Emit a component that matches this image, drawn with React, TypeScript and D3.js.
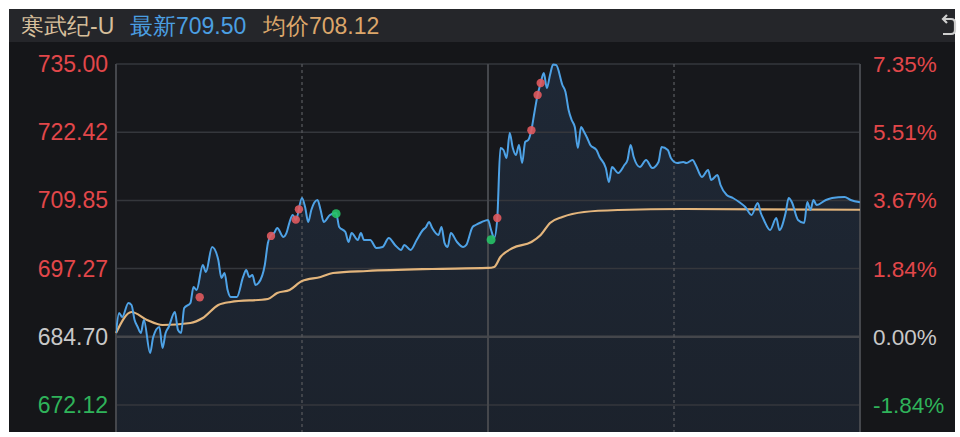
import React from "react";
import * as d3 from "d3";

// ---- data ----
const stockName = "寒武纪-U";
const latestLabel = "最新709.50";
const avgLabel = "均价708.12";
const basePrice = 684.7;
const leftTicks = [735.0, 722.42, 709.85, 697.27, 684.7, 672.12];

const priceMinutes = [
  0, 1, 2, 4, 5, 6, 7, 8, 9, 11, 12, 14, 15, 16, 17, 19, 20, 21, 22, 24, 25, 26, 28, 29, 31, 33, 34, 35, 36, 37, 39,
  41, 42, 43, 44, 45, 46, 48, 49, 50, 51, 52, 54, 55, 56, 57, 58, 60, 61, 62, 63, 65, 66, 67, 69, 71, 72, 74, 75, 76,
  78, 79, 80, 82, 84, 86, 88, 90, 92, 93, 95, 97, 99, 100, 101, 102, 104, 105, 106, 107, 108, 110, 112, 113, 115, 116,
  118, 120, 121, 122, 123, 124, 125, 126, 127, 128, 129, 130, 131, 132, 133, 134, 135, 136, 137, 138, 139, 140, 141,
  142, 144, 145, 146, 147, 148, 149, 150, 151, 152, 153, 155, 156, 158, 159, 160, 162, 164, 165, 166, 167, 169, 171,
  173, 175, 176, 178, 179, 181, 183, 184, 186, 187, 189, 191, 192, 194, 195, 197, 199, 201, 203, 205, 207, 208, 209,
  211, 213, 214, 216, 217, 218, 220, 222, 223, 224, 225, 226, 229, 231, 235, 237, 240,
];
const priceValues = [
  685.4, 689.09, 688.35, 690.93, 690.56, 687.8, 686.51, 685.4, 687.8, 681.71, 684.66, 686.51, 682.63, 685.4, 686.51,
  689.27, 685.95, 685.4, 690.01, 690.93, 693.88, 693.33, 697.94, 696.65, 701.26, 698.86, 695.54, 696.46, 693.33,
  692.04, 692.04, 695.73, 697.02, 695.73, 696.09, 694.25, 694.62, 697.94, 701.99, 703.47, 703.84, 704.76, 703.1,
  703.84, 705.87, 707.16, 706.24, 710.29, 708.63, 705.87, 708.08, 709.92, 708.08, 705.87, 707.16, 707.53, 704.94,
  704.02, 702.18, 703.84, 702.55, 703.84, 702.55, 702.55, 701.07, 701.26, 702.92, 701.63, 700.7, 701.63, 700.7,
  702.55, 704.39, 704.94, 705.87, 704.76, 703.47, 704.94, 701.99, 701.26, 703.84, 702.18, 701.26, 701.63, 704.94,
  705.31, 705.87, 706.24, 704.39, 702.92, 706.6, 719.51, 719.14, 717.67, 722.28, 719.51, 718.22, 720.06, 716.75,
  720.62, 720.99, 722.83, 726.15, 729.28, 731.5, 733.34, 730.57, 732.97, 734.9, 734.82, 731.13, 729.84, 726.52,
  724.67, 723.38, 719.51, 723.38, 722.46, 721.36, 720.06, 719.14, 717.85, 715.82, 713.24, 716.01, 714.9, 716.38,
  717.3, 720.06, 717.85, 716.01, 717.3, 715.82, 716.93, 719.7, 719.14, 717.67, 716.75, 716.93, 716.75, 717.3, 716.38,
  714.16, 715.45, 713.61, 714.53, 712.69, 710.85, 710.29, 709.55, 708.63, 707.16, 709.37, 707.53, 706.24, 704.39,
  706.6, 704.39, 707.53, 710.29, 709.55, 706.24, 705.68, 709.55, 708.08, 709.92, 709.0, 709.92, 710.29, 710.48,
  709.92, 709.5,
];

const avgMinutes = [0, 5, 10, 15, 24, 28, 33, 37, 49, 52, 56, 60, 66, 70, 81, 102, 120, 122, 124, 128, 134, 137, 140, 144, 151, 162, 183, 240];
const avgValues = [
  685.4, 689.27, 687.8, 686.87, 687.24, 688.17, 690.56, 691.12, 691.67, 692.78, 693.33, 694.99, 695.73, 696.46,
  696.83, 697.2, 697.39, 697.57, 699.41, 701.07, 702.18, 703.47, 705.68, 706.79, 707.71, 708.08, 708.26, 708.12,
];

const redDotMinutes = [27, 50, 58, 59, 123, 134, 136, 137];
const redDotValues = [692.0, 703.3, 706.3, 708.2, 706.6, 722.8, 729.3, 731.5];
const greenDotMinutes = [71, 121];
const greenDotValues = [707.4, 702.6];

// ---- layout ----
const W = 960;
const H = 437;
const plotL = 116;
const plotR = 860;
const plotT = 64;
const plotB = 432;
const FONT = "'Liberation Sans', Arial, sans-serif";

export default function App() {
  const x = d3.scaleLinear().domain([0, 240]).range([plotL, plotR]);
  const y = d3.scaleLinear().domain([672.12, 735]).range([405, plotT]);

  const pricePts: [number, number][] = priceMinutes.map((m, i) => [m, priceValues[i]]);
  const avgPts: [number, number][] = avgMinutes.map((m, i) => [m, avgValues[i]]);

  const line = d3
    .line<[number, number]>()
    .x((d) => x(d[0]))
    .y((d) => y(d[1]))
    .curve(d3.curveMonotoneX);
  const area = d3
    .area<[number, number]>()
    .x((d) => x(d[0]))
    .y0(plotB)
    .y1((d) => y(d[1]))
    .curve(d3.curveMonotoneX);

  const tickColor = (v: number) =>
    Math.abs(v - basePrice) < 1e-6 ? "#c8c8c8" : v > basePrice ? "#e2474a" : "#2fb35a";

  const pct = (v: number) => ((v - basePrice) / basePrice) * 100;
  const vLines = [0, 60, 120, 180, 240];

  return (
    <div style={{ position: "absolute", left: 0, top: 0, width: W, height: H, background: "#fff" }}>
      <svg width={W} height={H} style={{ display: "block" }}>
        <defs>
          <linearGradient id="fillGrad" x1="0" y1="0" x2="0" y2="1">
            <stop offset="0%" stopColor="rgb(70,125,190)" stopOpacity={0.16} />
            <stop offset="100%" stopColor="rgb(70,125,190)" stopOpacity={0.1} />
          </linearGradient>
          <clipPath id="plotClip">
            <rect x={plotL} y={plotT - 2} width={plotR - plotL} height={plotB - plotT + 2} />
          </clipPath>
        </defs>
        {/* panel */}
        <rect x={9} y={9} width={946} height={423} fill="#151619" />
        {/* header */}
        <rect x={9} y={9} width={946} height={33} fill="#25262a" />
        <text x={21} y={34} fontFamily={FONT} fontSize={23} fill="#d7bf9c">
          {stockName}
        </text>
        <text x={130} y={34} fontFamily={FONT} fontSize={23} fill="#4b9fe2">
          {latestLabel}
        </text>
        <text x={263} y={34} fontFamily={FONT} fontSize={23} fill="#dca66a">
          {avgLabel}
        </text>
        <g fill="none" stroke="#cfcfcf" strokeWidth={2.2}>
          <path d="M943 19 L951 19 Q955 19 955 23 L955 30 Q955 34 951 34 L943 34" />
          <path d="M947 15 L943 19 L947 23" />
        </g>
        {/* plot background */}
        <rect x={plotL} y={plotT} width={plotR - plotL} height={plotB - plotT} fill="#17181c" />
        {/* area fill */}
        <path d={area(pricePts) || ""} fill="url(#fillGrad)" clipPath="url(#plotClip)" />
        {/* horizontal grid */}
        {leftTicks.map((v) => (
          <line
            key={"h" + v}
            x1={plotL}
            x2={plotR}
            y1={y(v)}
            y2={y(v)}
            stroke={Math.abs(v - basePrice) < 1e-6 ? "#44464b" : "#35373c"}
            strokeWidth={Math.abs(v - basePrice) < 1e-6 ? 2.5 : 1.5}
          />
        ))}
        {/* vertical grid */}
        {vLines.map((m, i) => (
          <line
            key={"v" + m}
            x1={x(m)}
            x2={x(m)}
            y1={plotT}
            y2={plotB}
            stroke={i % 2 === 1 ? "#55565b" : "#45474c"}
            strokeWidth={i % 2 === 1 ? 1.3 : 2}
            strokeDasharray={i % 2 === 1 ? "3,3" : undefined}
          />
        ))}
        {/* avg line */}
        <path d={line(avgPts) || ""} fill="none" stroke="#e3b57c" strokeWidth={2.2} />
        {/* price line */}
        <path d={line(pricePts) || ""} fill="none" stroke="#4ea2e6" strokeWidth={2} clipPath="url(#plotClip)" />
        {/* dots */}
        {redDotMinutes.map((m, i) => (
          <circle key={"r" + i} cx={x(m)} cy={y(redDotValues[i])} r={4.2} fill="#e05a5e" opacity={0.9} />
        ))}
        {greenDotMinutes.map((m, i) => (
          <circle key={"g" + i} cx={x(m)} cy={y(greenDotValues[i])} r={4.5} fill="#27c267" opacity={0.9} />
        ))}
        {/* left axis labels */}
        {leftTicks.map((v) => (
          <text
            key={"l" + v}
            x={108}
            y={y(v) + 8}
            textAnchor="end"
            fontFamily={FONT}
            fontSize={23}
            fill={tickColor(v)}
          >
            {v.toFixed(2)}
          </text>
        ))}
        {/* right axis labels */}
        {leftTicks.map((v) => (
          <text key={"r" + v} x={873} y={y(v) + 8} fontFamily={FONT} fontSize={22.5} fill={tickColor(v)}>
            {pct(v).toFixed(2) + "%"}
          </text>
        ))}
      </svg>
    </div>
  );
}
